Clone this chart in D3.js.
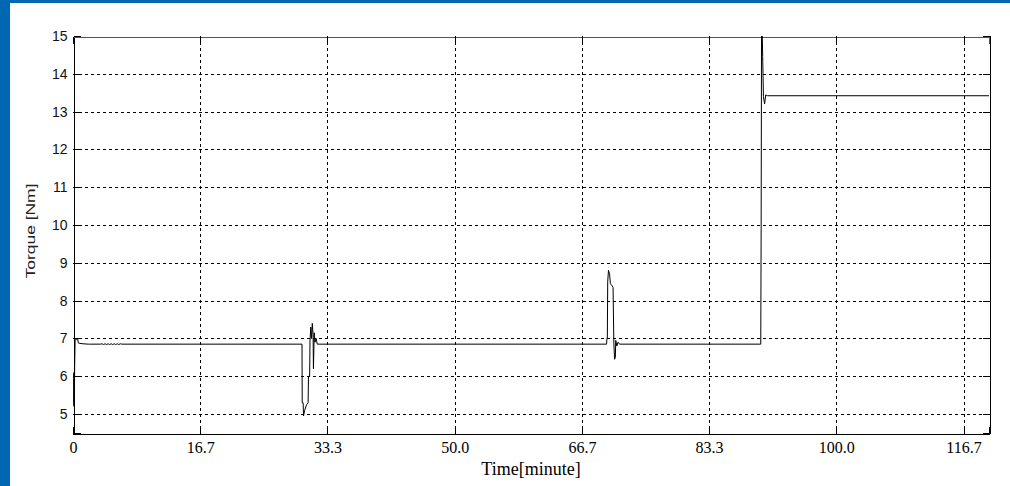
<!DOCTYPE html>
<html>
<head>
<meta charset="utf-8">
<script src="https://cdn.jsdelivr.net/npm/d3@7"></script>
<style>
  html, body { margin: 0; padding: 0; background: #fff; }
  svg { display: block; }
</style>
</head>
<body>
<svg id="chart" width="1010" height="486"></svg>
<script>
// Torque trace: time in minutes, torque in Nm
const timeMin = [
  0.10, 0.12, 0.14, 0.16, 0.18, 0.22, 0.28, 0.45, 0.60, 0.70, 0.90, 1.3, 2.0, 3.6,
  3.8, 4.0, 4.2, 4.4, 4.6, 4.8, 5.0, 5.2, 5.4, 5.6, 5.8, 6.0, 6.2, 6.4,
  30.00, 30.03, 30.15, 30.20, 30.35, 30.60, 30.80, 30.85, 31.00, 31.05, 31.15,
  31.25, 31.35, 31.45, 31.50, 31.60, 31.70, 31.85, 32.00,
  69.90, 69.95, 70.00, 70.05, 70.15, 70.30, 70.40, 70.60, 70.75, 70.85, 70.95,
  71.05, 71.10, 71.25, 71.40, 71.60,
  90.10, 90.15, 90.20, 90.30, 90.35, 90.45, 90.60, 90.75, 91.00, 120.0
];
const torqueNm = [
  5.20, 6.10, 5.25, 6.05, 5.30, 6.30, 7.00, 6.97, 7.00, 6.88, 6.87, 6.86, 6.85, 6.85,
  6.86, 6.84, 6.86, 6.84, 6.86, 6.84, 6.86, 6.84, 6.86, 6.84, 6.86, 6.84, 6.86, 6.85,
  6.85, 5.30, 5.30, 4.95, 5.10, 5.25, 5.30, 6.00, 6.00, 6.95, 7.30,
  7.00, 7.40, 7.10, 6.20, 7.15, 6.90, 7.00, 6.85,
  6.85, 7.00, 7.00, 8.50, 8.80, 8.70, 8.45, 8.40, 8.35, 6.90, 6.45,
  6.50, 6.95, 6.80, 6.90, 6.85,
  6.85, 9.90, 15.0, 15.0, 14.45, 13.40, 13.20, 13.44, 13.42, 13.42
];
const xTickValues = [0, 16.667, 33.333, 50, 66.667, 83.333, 100, 116.667];
const xTickLabels = ["0", "16.7", "33.3", "50.0", "66.7", "83.3", "100.0", "116.7"];
const yTickValues = [5, 6, 7, 8, 9, 10, 11, 12, 13, 14, 15];

const svg = d3.select("#chart");
const W = 1010, H = 486;
const plotLeft = 73, plotRight = 989, plotTop = 36, plotBottom = 433;

// window frame (blue border on left and top)
svg.append("rect").attr("x", 0).attr("y", 0).attr("width", W).attr("height", H).attr("fill", "#fff");
svg.append("rect").attr("x", 0).attr("y", 0).attr("width", W).attr("height", 3).attr("fill", "#0067b1");
svg.append("rect").attr("x", 0).attr("y", 0).attr("width", 10).attr("height", H).attr("fill", "#0067b1");

const x = d3.scaleLinear().domain([0, 120]).range([plotLeft, plotRight]);
const y = d3.scaleLinear().domain([4.5, 15]).range([plotBottom, plotTop]);

// dashed grid
const grid = svg.append("g").attr("stroke", "#000").attr("stroke-width", 1)
  .attr("stroke-dasharray", "3,3").attr("shape-rendering", "crispEdges");
grid.selectAll("line.h").data(yTickValues.filter(v => v < 15)).join("line")
  .attr("class", "h")
  .attr("x1", plotLeft).attr("x2", plotRight)
  .attr("y1", d => Math.round(y(d)) + 0.5).attr("y2", d => Math.round(y(d)) + 0.5);
grid.selectAll("line.v").data(xTickValues.filter(v => v > 0)).join("line")
  .attr("class", "v")
  .attr("y1", plotTop).attr("y2", plotBottom)
  .attr("x1", d => Math.round(x(d)) + 0.5).attr("x2", d => Math.round(x(d)) + 0.5);

// axes with inward ticks on all four sides
const axisL = d3.axisLeft(y).tickValues(yTickValues).tickFormat(d3.format("d"))
  .tickSize(-7).tickPadding(6);
const axisR = d3.axisRight(y).tickValues(yTickValues).tickFormat("").tickSize(-7);
const axisB = d3.axisBottom(x).tickValues(xTickValues)
  .tickFormat((d, i) => xTickLabels[i]).tickSize(-7).tickPadding(8);
const axisT = d3.axisTop(x).tickValues(xTickValues).tickFormat("").tickSize(-7);

function styleAxis(g) {
  g.attr("shape-rendering", "crispEdges");
  g.select(".domain").attr("stroke", "#000");
  g.selectAll(".tick line").attr("stroke", "#000");
}

svg.append("g").attr("transform", `translate(${plotLeft + 0.5},0)`).call(axisL).call(styleAxis)
  .selectAll("text").attr("font-family", "'Liberation Sans', Arial, sans-serif")
  .attr("font-size", 14).attr("fill", "#111");
svg.append("g").attr("transform", `translate(${plotRight + 0.5},0)`).call(axisR).call(styleAxis);
svg.append("g").attr("transform", `translate(0,${plotBottom + 0.5})`).call(axisB).call(styleAxis)
  .selectAll("text").attr("font-family", "'Liberation Serif', 'Times New Roman', serif")
  .attr("font-size", 16).attr("fill", "#000");
svg.append("g").attr("transform", `translate(0,${plotTop + 0.5})`).call(axisT).call(styleAxis)
  .select(".domain").attr("stroke", "#555");

// axis titles
svg.append("text")
  .attr("x", (plotLeft + plotRight) / 2).attr("y", 475)
  .attr("text-anchor", "middle")
  .attr("font-family", "'Liberation Serif', 'Times New Roman', serif")
  .attr("font-size", 18).attr("fill", "#000")
  .text("Time[minute]");
svg.append("text")
  .attr("transform", "translate(35,231) rotate(-90)")
  .attr("text-anchor", "middle")
  .attr("font-family", "'Liberation Sans', Arial, sans-serif")
  .attr("font-size", 13).attr("fill", "#222")
  .attr("textLength", 95).attr("lengthAdjust", "spacingAndGlyphs")
  .text("Torque [Nm]");

// torque trace, clipped to the plot frame
svg.append("clipPath").attr("id", "plotClip").append("rect")
  .attr("x", plotLeft).attr("y", plotTop)
  .attr("width", plotRight - plotLeft).attr("height", plotBottom - plotTop);

const points = timeMin.map((t, i) => [t, torqueNm[i]]);
const line = d3.line().x(d => x(d[0])).y(d => y(d[1]));
svg.append("path")
  .datum(points)
  .attr("clip-path", "url(#plotClip)")
  .attr("fill", "none")
  .attr("stroke", "#000")
  .attr("stroke-width", 1)
  .attr("d", line);
</script>
</body>
</html>
